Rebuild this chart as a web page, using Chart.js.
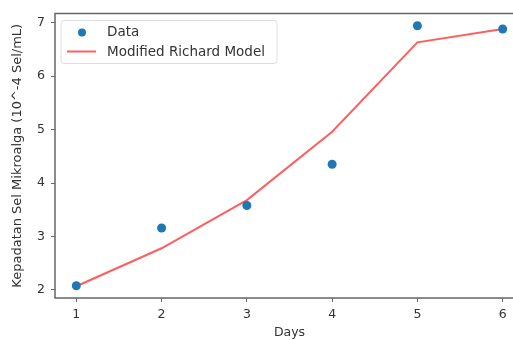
<!DOCTYPE html>
<html>
<head>
<meta charset="utf-8">
<script src="https://cdn.jsdelivr.net/npm/chart.js@4.4.0/dist/chart.umd.min.js"></script>
<style>
  html, body { margin: 0; padding: 0; background: #fff; overflow: hidden; }
  #wrap { width: 530px; height: 340px; }
</style>
</head>
<body>
<div id="wrap"><canvas id="chart" width="530" height="340"></canvas></div>
<script>
const days = [1, 2, 3, 4, 5, 6];
const dataValues = [2.08, 3.16, 3.58, 4.35, 6.94, 6.88];
const modelValues = [2.07, 2.78, 3.68, 4.96, 6.63, 6.88];
const xTicks = [1, 2, 3, 4, 5, 6];
const yTicks = [2, 3, 4, 5, 6, 7];

const font = { family: "'DejaVu Sans', sans-serif", size: 12.5 };
const axisColor = '#666';

// garis bingkai + legend di dalam area plot (gaya matplotlib)
const framePlugin = {
  id: 'frame',
  afterDraw(chart) {
    const { ctx, chartArea: a } = chart;
    ctx.save();
    ctx.strokeStyle = axisColor;
    ctx.lineWidth = 1.5;
    ctx.beginPath();
    ctx.moveTo(a.right + 20, a.top);
    ctx.lineTo(a.left, a.top);
    ctx.lineTo(a.left, a.bottom);
    ctx.lineTo(a.right + 20, a.bottom);
    ctx.stroke();

    // legend
    const x0 = a.left + 6, y0 = a.top + 7;
    ctx.fillStyle = 'rgba(255,255,255,0.8)';
    ctx.strokeStyle = '#ddd';
    ctx.lineWidth = 1;
    ctx.beginPath();
    ctx.roundRect(x0, y0, 216, 43, 3);
    ctx.fill();
    ctx.stroke();

    const ds = chart.data.datasets;
    ctx.font = "13.5px 'DejaVu Sans', sans-serif";
    ctx.textBaseline = 'middle';
    ctx.fillStyle = '#1f77b4';
    ctx.beginPath();
    ctx.arc(x0 + 21, y0 + 12, 4, 0, Math.PI * 2);
    ctx.fill();
    ctx.strokeStyle = 'rgba(255,40,40,0.75)';
    ctx.lineWidth = 2;
    ctx.beginPath();
    ctx.moveTo(x0 + 6, y0 + 31);
    ctx.lineTo(x0 + 35, y0 + 31);
    ctx.stroke();
    ctx.fillStyle = '#333';
    ctx.fillText(ds[0].label, x0 + 46, y0 + 12);
    ctx.fillText(ds[1].label, x0 + 46, y0 + 32);
    ctx.restore();
  }
};

new Chart(document.getElementById('chart'), {
  type: 'scatter',
  data: {
    datasets: [
      {
        label: 'Data',
        data: days.map((d, i) => ({ x: d, y: dataValues[i] })),
        backgroundColor: '#1f77b4',
        borderColor: '#1f77b4',
        pointRadius: 4.5,
        pointBorderWidth: 0
      },
      {
        label: 'Modified Richard Model',
        data: days.map((d, i) => ({ x: d, y: modelValues[i] })),
        showLine: true,
        borderColor: 'rgba(255,40,40,0.75)',
        borderWidth: 2,
        pointRadius: 0,
        fill: false
      }
    ]
  },
  options: {
    responsive: false,
    animation: false,
    layout: { padding: { top: 13, right: 6, bottom: 0, left: 0 } },
    plugins: {
      legend: { display: false },
      tooltip: { enabled: false }
    },
    scales: {
      x: {
        type: 'linear',
        min: 0.75,
        max: 6.25,
        afterBuildTicks: s => { s.ticks = xTicks.map(v => ({ value: v })); },
        afterFit: s => { s.height = 42; },
        grid: { display: true, drawOnChartArea: false, drawTicks: true, tickLength: 4, color: axisColor },
        border: { display: false },
        ticks: { font, color: '#333', padding: 5, maxRotation: 0 },
        title: { display: true, text: 'Days', font, color: '#333', padding: { top: 0, bottom: 0 } }
      },
      y: {
        type: 'linear',
        min: 1.85,
        max: 7.17,
        afterBuildTicks: s => { s.ticks = yTicks.map(v => ({ value: v })); },
        afterFit: s => { s.width = 55; },
        grid: { display: true, drawOnChartArea: false, drawTicks: true, tickLength: 4, color: axisColor },
        border: { display: false },
        ticks: { font, color: '#333', padding: 6 },
        title: { display: true, text: 'Kepadatan Sel Mikroalga (10^-4 Sel/mL)', font: { family: font.family, size: 13 }, color: '#333', padding: { top: 10, bottom: 0 } }
      }
    }
  },
  plugins: [framePlugin]
});
</script>
</body>
</html>
